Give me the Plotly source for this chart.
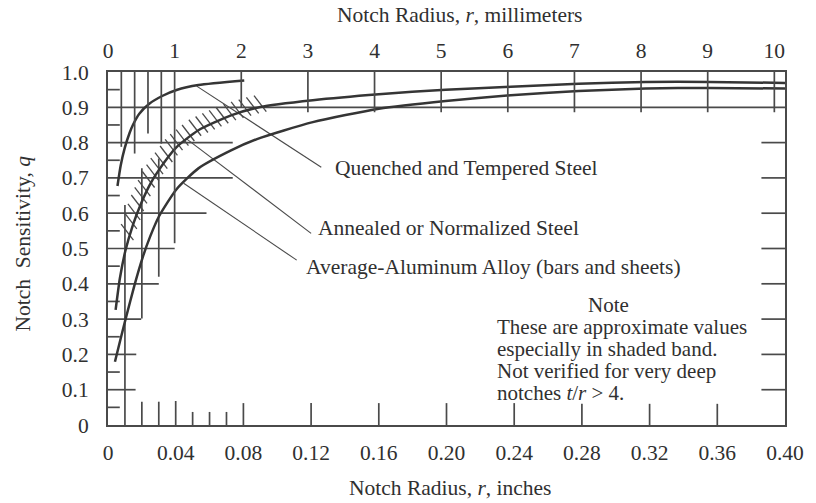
import numpy as np
import plotly.graph_objects as go

# ---------------- data (notch radius r in inches, notch sensitivity q) ----------------
quenched_r = [0.0056, 0.0075, 0.0099, 0.0128, 0.0147, 0.0185, 0.0244, 0.032, 0.0405, 0.0534, 0.0805]
quenched_q = [0.677, 0.735, 0.785, 0.828, 0.850, 0.882, 0.910, 0.932, 0.949, 0.963, 0.976]

annealed_r = [0.0045, 0.007, 0.0102, 0.0147, 0.0196, 0.025, 0.030, 0.0405, 0.0534, 0.0727,
              0.090, 0.121, 0.160, 0.1995, 0.238, 0.278, 0.3176, 0.3557, 0.40]
annealed_q = [0.326, 0.415, 0.492, 0.566, 0.628, 0.683, 0.722, 0.787, 0.835, 0.877,
              0.901, 0.920, 0.937, 0.950, 0.958, 0.967, 0.972, 0.972, 0.969]

alum_r = [0.0041, 0.0075, 0.0105, 0.0157, 0.0205, 0.025, 0.030, 0.0405, 0.0534, 0.0727, 0.088,
          0.121, 0.160, 0.1995, 0.238, 0.278, 0.3176, 0.3557, 0.40]
alum_q = [0.179, 0.245, 0.302, 0.397, 0.475, 0.535, 0.590, 0.668, 0.727, 0.778, 0.810,
          0.858, 0.896, 0.918, 0.934, 0.946, 0.953, 0.955, 0.953]

# axis ticks
bottom_tickvals = [0, 0.04, 0.08, 0.12, 0.16, 0.20, 0.24, 0.28, 0.32, 0.36, 0.40]
bottom_ticktext = ["0", "0.04", "0.08", "0.12", "0.16", "0.20", "0.24", "0.28", "0.32", "0.36", "0.40"]
top_tickvals = [0, 1, 2, 3, 4, 5, 6, 7, 8, 9, 10]
top_ticktext = ["0", "1", "2", "3", "4", "5", "6", "7", "8", "9", "10"]
left_tickvals = [0, 0.1, 0.2, 0.3, 0.4, 0.5, 0.6, 0.7, 0.8, 0.9, 1.0]
left_ticktext = ["0", "0.1", "0.2", "0.3", "0.4", "0.5", "0.6", "0.7", "0.8", "0.9", "1.0"]

# chart grid (horizontal rules: level q, running from r=0 to r_end)
hgrid_q = [0.9, 0.8, 0.7, 0.6, 0.5, 0.4, 0.3, 0.2, 0.1]
hgrid_end = [0.40, 0.0737, 0.0737, 0.0582, 0.0394, 0.030, 0.0196, 0.0167, 0.0163]
minor_q = [0.05, 0.15, 0.25, 0.35, 0.45, 0.55, 0.65, 0.75, 0.85, 0.95]
right_tick_q = [0.1, 0.2, 0.3, 0.4, 0.5, 0.6, 0.7, 0.8]
# verticals hanging from the top (millimetre scale), down to q_end
top_mm = [0.2, 0.4, 0.6, 0.8, 1, 2, 3, 4, 5, 6, 7, 8, 9, 10]
top_mm_end = [0.788, 0.769, 0.826, 0.797, 0.515, 0.9, 0.886, 0.886, 0.886, 0.886, 0.886, 0.886, 0.886, 0.886]
# verticals on the inch scale (r, q_low, q_high)
inner_r = [0.01, 0.02, 0.03]
inner_lo = [0.0, 0.302, 0.42]
inner_hi = [0.623, 0.727, 0.755]
# short ticks rising from the bottom (r, height in q)
bottom_tick_r = [0.02, 0.03, 0.04, 0.05, 0.06, 0.07, 0.08, 0.12, 0.16, 0.20, 0.24, 0.28, 0.32, 0.36]
bottom_tick_h = [0.066, 0.066, 0.068, 0.037, 0.037, 0.037, 0.062, 0.062, 0.062, 0.062, 0.062, 0.060, 0.060, 0.060]

# shaded band hatch positions (r) along the annealed curve
hatch_r = [0.013, 0.015, 0.017, 0.019, 0.021, 0.023, 0.0255, 0.028, 0.0305, 0.033, 0.036,
           0.039, 0.042, 0.0455, 0.049, 0.053, 0.057, 0.061, 0.065, 0.069, 0.0735, 0.078,
           0.0825, 0.087, 0.0915]

# leader lines: (r0, q0) -> (r1, q1)
leaders = [((0.0524, 0.960), (0.126, 0.730)),
           ((0.046, 0.812), (0.120, 0.543)),
           ((0.0447, 0.685), (0.1115, 0.467))]
labels = ["Quenched and Tempered Steel", "Annealed or Normalized Steel",
          "Average-Aluminum Alloy (bars and sheets)"]
label_pos = [(0.133, 0.727), (0.123, 0.557), (0.116, 0.447)]

note_title = "Note"
note_lines = ["These are approximate values", "especially in shaded band.",
              "Not verified for very deep", "notches <i>t</i>/<i>r</i> > 4."]
note_q = [0.340, 0.278, 0.216, 0.154, 0.092]

# ---------------- figure ----------------
W, H = 816, 503
ML, MR, MT, MB = 108, 19, 72, 78
PX_R = (W - ML - MR) / 0.40      # pixels per inch
PX_Q = (H - MT - MB) / 1.0       # pixels per unit q

FONT = "Liberation Serif, Times New Roman, serif"
FS = 21.5
NFS = 21
GRID = "#4a4a4a"
CURVE = "#353535"
TXT = "#303030"

fig = go.Figure()

def add_segments(segs, width, color, xaxis="x"):
    xs, ys = [], []
    for (x0, y0), (x1, y1) in segs:
        xs += [x0, x1, None]
        ys += [y0, y1, None]
    fig.add_trace(go.Scatter(x=xs, y=ys, mode="lines", xaxis=xaxis,
                             line=dict(color=color, width=width),
                             hoverinfo="skip", showlegend=False, cliponaxis=False))

grid = []
for q, e in zip(hgrid_q, hgrid_end):
    grid.append(((0, q), (e, q)))
for q in minor_q:
    grid.append(((0, q), (12 / PX_R, q)))
for q in right_tick_q:
    grid.append(((0.40 - 24 / PX_R, q), (0.40, q)))
for r, lo, hi in zip(inner_r, inner_lo, inner_hi):
    grid.append(((r, lo), (r, hi)))
for r, h in zip(bottom_tick_r, bottom_tick_h):
    grid.append(((r, 0), (r, h)))
add_segments(grid, 1.7, GRID)

# top millimetre verticals drawn on the mm axis
mm_segs = [((m, 1.0), (m, e)) for m, e in zip(top_mm, top_mm_end)]
add_segments(mm_segs, 1.7, GRID, xaxis="x2")

# hatching
hatch = []
for r in hatch_r:
    q = float(np.interp(r, annealed_r, annealed_q))
    hatch.append(((r - 9 / PX_R, q + 11 / PX_Q), (r + 3.5 / PX_R, q - 5 / PX_Q)))
add_segments(hatch, 1.3, GRID)

# leaders
add_segments(leaders, 1.1, GRID)

# curves
for rr, qq in [(quenched_r, quenched_q), (annealed_r, annealed_q), (alum_r, alum_q)]:
    fig.add_trace(go.Scatter(x=rr, y=qq, mode="lines",
                             line=dict(color=CURVE, width=2.5, shape="spline", smoothing=0.6),
                             hoverinfo="skip", showlegend=False, cliponaxis=False))

ann = []
for t, (x, y) in zip(labels, label_pos):
    ann.append(dict(x=x, y=y, xref="x", yref="y", text=t, showarrow=False,
                    xanchor="left", yanchor="middle", font=dict(family=FONT, size=FS, color=TXT)))
ann.append(dict(x=0.2955, y=note_q[0], xref="x", yref="y", text=note_title, showarrow=False,
                xanchor="center", yanchor="middle", font=dict(family=FONT, size=NFS, color=TXT)))
for t, y in zip(note_lines, note_q[1:]):
    ann.append(dict(x=0.2285, y=y, xref="x", yref="y", text=t, showarrow=False,
                    xanchor="left", yanchor="middle", font=dict(family=FONT, size=NFS, color=TXT)))
# axis titles
ann.append(dict(x=(466 - ML) / (W - ML - MR), y=(H - MB - 15) / (H - MT - MB), xref="paper", yref="paper",
                text="Notch Radius, <i>r</i>, millimeters", showarrow=False,
                xanchor="center", yanchor="middle", font=dict(family=FONT, size=FS, color=TXT)))
ann.append(dict(x=(456 - ML) / (W - ML - MR), y=(H - MB - 488) / (H - MT - MB), xref="paper", yref="paper",
                text="Notch Radius, <i>r</i>, inches", showarrow=False,
                xanchor="center", yanchor="middle", font=dict(family=FONT, size=FS, color=TXT)))
ann.append(dict(x=(22 - ML) / (W - ML - MR), y=(H - MB - 243) / (H - MT - MB), xref="paper", yref="paper",
                text="Notch  Sensitivity, <i>q</i>", showarrow=False, textangle=-90,
                xanchor="center", yanchor="middle", font=dict(family=FONT, size=FS, color=TXT)))

tickfont = dict(family=FONT, size=FS, color=TXT)
fig.update_layout(
    width=W, height=H, autosize=False,
    margin=dict(l=ML, r=MR, t=MT, b=MB, pad=0),
    paper_bgcolor="white", plot_bgcolor="white",
    showlegend=False,
    annotations=ann,
    xaxis=dict(range=[0, 0.40], tickmode="array", tickvals=bottom_tickvals, ticktext=bottom_ticktext,
               showline=True, mirror=True, linecolor=GRID, linewidth=2,
               ticks="outside", ticklen=7, tickcolor="rgba(0,0,0,0)",
               showgrid=False, zeroline=False, tickfont=tickfont, fixedrange=True),
    xaxis2=dict(range=[0, 0.40 * 25.4], overlaying="x", side="top", anchor="y",
                tickmode="array", tickvals=top_tickvals, ticktext=top_ticktext,
                showline=False, ticks="outside", ticklen=4, tickcolor="rgba(0,0,0,0)",
                showgrid=False, zeroline=False, tickfont=tickfont, fixedrange=True),
    yaxis=dict(range=[0, 1.0], tickmode="array", tickvals=left_tickvals, ticktext=left_ticktext,
               showline=True, mirror=True, linecolor=GRID, linewidth=2,
               ticks="outside", ticklen=13, tickcolor="rgba(0,0,0,0)",
               showgrid=False, zeroline=False, tickfont=tickfont, fixedrange=True),
)

fig.write_html("out.html")
